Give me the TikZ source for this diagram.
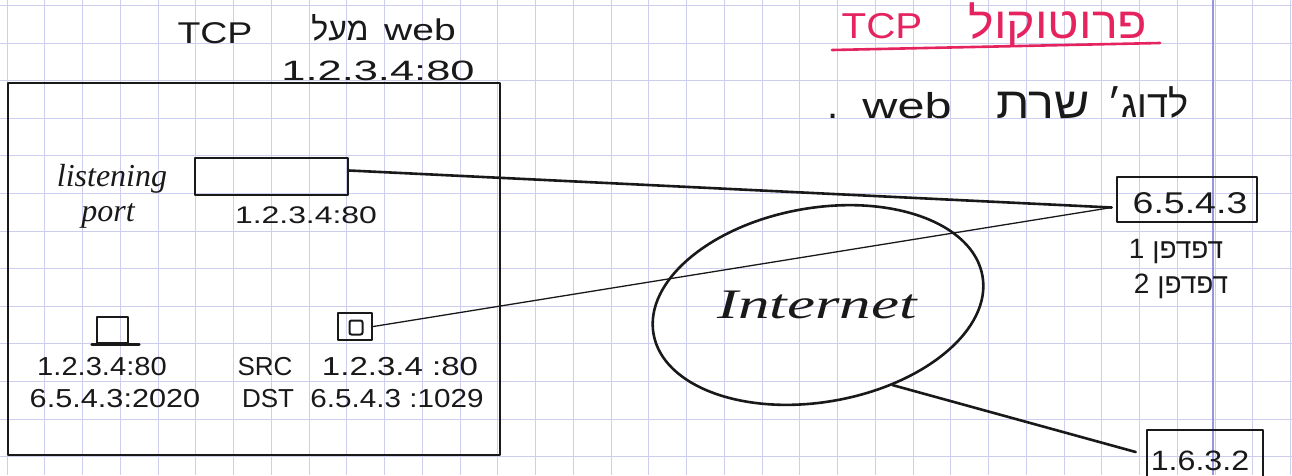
\documentclass[tikz,border=0pt]{standalone}
\usepackage{graphicx}
\usepackage{fontspec}
\setmainfont{Liberation Sans}
\newfontfamily\hebfont[Script=Hebrew]{Liberation Sans}
\newfontfamily\cursive{Liberation Serif}
\TeXXeTstate=1
\usetikzlibrary{shapes.geometric}

\definecolor{gridblue}{RGB}{205,205,238}
\definecolor{marginblue}{RGB}{150,150,225}
\definecolor{ink}{RGB}{25,25,25}
\definecolor{pinkink}{RGB}{228,35,95}
\newcommand\hsz[1]{\fontsize{#1}{#1}\selectfont}

\begin{document}
\begin{tikzpicture}[x=1pt,y=-1pt,
  txt/.style={inner sep=0pt, text=ink, anchor=base},
  pinktxt/.style={inner sep=0pt, text=pinkink, anchor=base},
  pen/.style={draw=ink, line width=2.6pt, line cap=round, line join=round},
  thinpen/.style={draw=ink, line width=1.3pt, line cap=round},
  boxnode/.style={pen, rectangle, inner sep=0pt},
  gridline/.style={draw=gridblue, line width=0.9pt}]

% paper
\fill[white] (0,0) rectangle (1292,475);
\useasboundingbox (0,0) rectangle (1292,475);
\foreach \k in {0,...,34} \draw[gridline] ({7+37.75*\k},0) -- ({7+37.75*\k},475);
\foreach \k in {0,...,12} \draw[gridline] (0,{5.5+37.6*\k}) -- (1292,{5.5+37.6*\k});
\draw[marginblue, line width=1.2pt] (1213,0) -- (1213,475);

% heading over the server box
\node[txt, font=\hsz{30}] (tcpL) at (215,43) {\scalebox{1.25}[1]{TCP}};
\node[txt, font=\hebfont\hsz{32}] (overL) at (340,40) {\beginR מעל\endR};
\node[txt, font=\hsz{30}] (webL) at (420,40) {\scalebox{1.3}[1]{web}};
\node[txt, font=\hsz{28}] (srvaddr) at (378,80) {\scalebox{1.55}[1]{1.2.3.4:80}};

% server box
\node[boxnode, minimum width=492pt, minimum height=372pt] (server) at (254,269) {};

% listening port
\node[txt, font=\cursive\itshape\hsz{32}] (lis) at (112,186) {listening};
\node[txt, font=\cursive\itshape\hsz{32}] (port) at (108,221) {port};
\node[boxnode, minimum width=153pt, minimum height=37pt] (lport) at (271.5,176.5) {};
\node[txt, font=\hsz{24}] (lportaddr) at (306,223) {\scalebox{1.33}[1]{1.2.3.4:80}};

% connection sockets
\node[boxnode, minimum width=31pt, minimum height=26pt] (sockA) at (112.5,330) {};
\draw[pen] ([xshift=-4pt]sockA.south west) -- ([xshift=10pt]sockA.south east);
\node[boxnode, minimum width=34pt, minimum height=27pt] (sockB) at (355,326.5) {};
\node[draw=ink, line width=2pt, rounded corners=2pt, minimum width=13pt, minimum height=14pt, inner sep=0pt] (sockBin) at (356,327.5) {};

\node[txt, font=\hsz{26}] (a1) at (102,375) {\scalebox{1.12}[1]{1.2.3.4:80}};
\node[txt, font=\hsz{26}] (a2) at (115,407) {\scalebox{1.18}[1]{6.5.4.3:2020}};
\node[txt, font=\hsz{26}] (src) at (265,375) {SRC};
\node[txt, font=\hsz{26}] (dst) at (268,407) {DST};
\node[txt, font=\hsz{26}] (b1) at (400,375) {\scalebox{1.27}[1]{1.2.3.4 :80}};
\node[txt, font=\hsz{26}] (b2) at (397,407) {\scalebox{1.14}[1]{6.5.4.3 :1029}};

% title on the right
\node[pinktxt, font=\hsz{36}] (tcpR) at (882,38) {\scalebox{1.12}[1]{TCP}};
\node[pinktxt, font=\hebfont\hsz{44}] (proto) at (1058,38) {\scalebox{1.1}[1]{\beginR פרוטוקול\endR}};
\draw[pinkink, line width=2.6pt, line cap=round] (832,50) -- (1160,43);

\node[txt, font=\hsz{40}] (dot) at (833,118) {.};
\node[txt, font=\hsz{36}] (webR) at (907,118) {\scalebox{1.35}[1]{web}};
\node[txt, font=\hebfont\hsz{44}] (srvR) at (1043,118) {\scalebox{1.1}[1]{\beginR שרת\endR}};
\node[txt, font=\hebfont\hsz{38}] (egR) at (1148,117) {\beginR לדוג׳\endR};

% remote hosts
\node[boxnode, minimum width=140pt, minimum height=45pt] (client) at (1187,199.5) {};
\node[txt, font=\hsz{30}] (clientaddr) at (1190,213) {\scalebox{1.25}[1]{6.5.4.3}};
\node[txt, font=\hebfont\hsz{28}] (br1) at (1176,258) {\beginR דפדפן 1\endR};
\node[txt, font=\hebfont\hsz{28}] (br2) at (1181,293) {\beginR דפדפן 2\endR};

\node[boxnode, minimum width=116pt, minimum height=52pt] (other) at (1205,456) {};
\node[txt, font=\hsz{28}] (otheraddr) at (1200,470) {\scalebox{1.15}[1]{1.6.3.2}};

% the internet
\node[pen, ellipse, minimum width=334pt, minimum height=194pt, inner sep=0pt, rotate=10] (net) at (818,305) {};
\node[txt, font=\cursive\itshape\hsz{42}] (netlabel) at (817,318) {\scalebox{1.5}[1]{Internet}};

% connections
\coordinate (meet) at ([xshift=-4pt,yshift=-8pt]client.west);
\draw[pen] ([yshift=6pt]lport.east) -- (meet);
\draw[thinpen] (sockB.east) -- (meet);
\draw[pen] (net.-57) -- ([xshift=-10pt,yshift=4pt]other.west);
\end{tikzpicture}
\end{document}
